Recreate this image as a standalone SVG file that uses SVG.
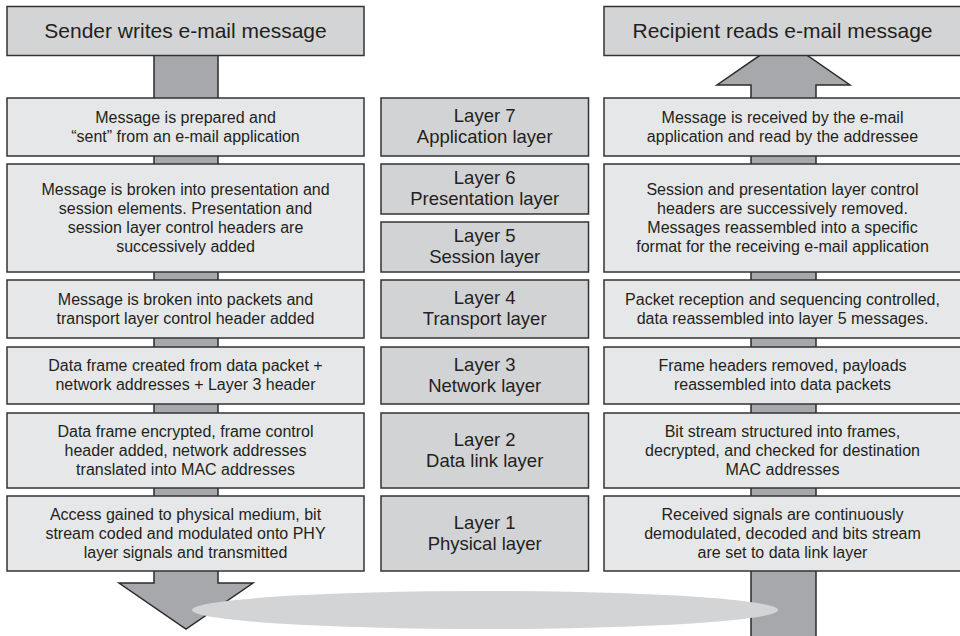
<svg xmlns="http://www.w3.org/2000/svg" width="960" height="636" viewBox="0 0 960 636">
<style>
.hdr{fill:#d3d4d5;stroke:#333;stroke-width:1.5}
.step{fill:#e6e7e8;stroke:#333;stroke-width:1.5}
.layer{fill:#d2d3d4;stroke:#333;stroke-width:1.5}
.arrow{fill:#a7a8ab;stroke:#2b2b2b;stroke-width:1.5;stroke-linejoin:miter}
text{font-family:"Liberation Sans",Arial,sans-serif;fill:#231f20;text-anchor:middle}
.ht{font-size:21px}
.st{font-size:16px}
.lt{font-size:18.5px}
</style>
<rect width="960" height="636" fill="#ffffff"/>
<g id="connectors">
<polygon id="send-arrow" class="arrow" points="154,50 218,50 218,583 253,583 186,629 119,583 154,583"/>
<polygon id="recv-arrow" class="arrow" points="751,642 751,85 717,85 783.5,39 850,85 816,85 816,642"/>
</g>
<g id="sender-header"><rect class="hdr" x="7" y="6.5" width="357" height="49"/><text class="ht" x="185.5" y="38">Sender writes e-mail message</text></g>
<g id="recipient-header"><rect class="hdr" x="604" y="6.5" width="357" height="49"/><text class="ht" x="782.5" y="38">Recipient reads e-mail message</text></g>

<g id="send-7"><rect class="step" x="7" y="98" width="357" height="58"/><text class="st" x="185.5" y="122.5">Message is prepared and</text><text class="st" x="185.5" y="141.5">“sent” from an e-mail application</text></g>
<g id="send-6-5"><rect class="step" x="7" y="164" width="357" height="108"/><text class="st" x="185.5" y="194.5">Message is broken into presentation and</text><text class="st" x="185.5" y="213.5">session elements. Presentation and</text><text class="st" x="185.5" y="232.5">session layer control headers are</text><text class="st" x="185.5" y="251.5">successively added</text></g>
<g id="send-4"><rect class="step" x="7" y="280" width="357" height="58"/><text class="st" x="185.5" y="304.5">Message is broken into packets and</text><text class="st" x="185.5" y="323.5">transport layer control header added</text></g>
<g id="send-3"><rect class="step" x="7" y="347" width="357" height="57"/><text class="st" x="185.5" y="371">Data frame created from data packet +</text><text class="st" x="185.5" y="390">network addresses + Layer 3 header</text></g>
<g id="send-2"><rect class="step" x="7" y="413" width="357" height="75"/><text class="st" x="185.5" y="436.5">Data frame encrypted, frame control</text><text class="st" x="185.5" y="455.5">header added, network addresses</text><text class="st" x="185.5" y="474.5">translated into MAC addresses</text></g>
<g id="send-1"><rect class="step" x="7" y="496" width="357" height="75"/><text class="st" x="185.5" y="519.5">Access gained to physical medium, bit</text><text class="st" x="185.5" y="538.5">stream coded and modulated onto PHY</text><text class="st" x="185.5" y="557.5">layer signals and transmitted</text></g>

<g id="layer-7"><rect class="layer" x="381" y="98" width="207.5" height="58"/><text class="lt" x="484.7" y="122.3">Layer 7</text><text class="lt" x="484.7" y="143.3">Application layer</text></g>
<g id="layer-6"><rect class="layer" x="381" y="164" width="207.5" height="50"/><text class="lt" x="484.7" y="184.3">Layer 6</text><text class="lt" x="484.7" y="205.3">Presentation layer</text></g>
<g id="layer-5"><rect class="layer" x="381" y="222" width="207.5" height="50"/><text class="lt" x="484.7" y="242.3">Layer 5</text><text class="lt" x="484.7" y="263.3">Session layer</text></g>
<g id="layer-4"><rect class="layer" x="381" y="280" width="207.5" height="58"/><text class="lt" x="484.7" y="304.3">Layer 4</text><text class="lt" x="484.7" y="325.3">Transport layer</text></g>
<g id="layer-3"><rect class="layer" x="381" y="347" width="207.5" height="57"/><text class="lt" x="484.7" y="370.8">Layer 3</text><text class="lt" x="484.7" y="391.8">Network layer</text></g>
<g id="layer-2"><rect class="layer" x="381" y="413" width="207.5" height="75"/><text class="lt" x="484.7" y="445.8">Layer 2</text><text class="lt" x="484.7" y="466.8">Data link layer</text></g>
<g id="layer-1"><rect class="layer" x="381" y="496" width="207.5" height="75"/><text class="lt" x="484.7" y="528.8">Layer 1</text><text class="lt" x="484.7" y="549.8">Physical layer</text></g>

<g id="recv-7"><rect class="step" x="604" y="98" width="357" height="58"/><text class="st" x="782.5" y="122.5">Message is received by the e-mail</text><text class="st" x="782.5" y="141.5">application and read by the addressee</text></g>
<g id="recv-6-5"><rect class="step" x="604" y="164" width="357" height="108"/><text class="st" x="782.5" y="194.5">Session and presentation layer control</text><text class="st" x="782.5" y="213.5">headers are successively removed.</text><text class="st" x="782.5" y="232.5">Messages reassembled into a specific</text><text class="st" x="782.5" y="251.5">format for the receiving e-mail application</text></g>
<g id="recv-4"><rect class="step" x="604" y="280" width="357" height="58"/><text class="st" x="782.5" y="304.5">Packet reception and sequencing controlled,</text><text class="st" x="782.5" y="323.5">data reassembled into layer 5 messages.</text></g>
<g id="recv-3"><rect class="step" x="604" y="347" width="357" height="57"/><text class="st" x="782.5" y="371">Frame headers removed, payloads</text><text class="st" x="782.5" y="390">reassembled into data packets</text></g>
<g id="recv-2"><rect class="step" x="604" y="413" width="357" height="75"/><text class="st" x="782.5" y="436.5">Bit stream structured into frames,</text><text class="st" x="782.5" y="455.5">decrypted, and checked for destination</text><text class="st" x="782.5" y="474.5">MAC addresses</text></g>
<g id="recv-1"><rect class="step" x="604" y="496" width="357" height="75"/><text class="st" x="782.5" y="519.5">Received signals are continuously</text><text class="st" x="782.5" y="538.5">demodulated, decoded and bits stream</text><text class="st" x="782.5" y="557.5">are set to data link layer</text></g>

<g id="medium"><ellipse cx="485" cy="610" rx="293" ry="19" fill="#d3d4d5"/></g>
</svg>
